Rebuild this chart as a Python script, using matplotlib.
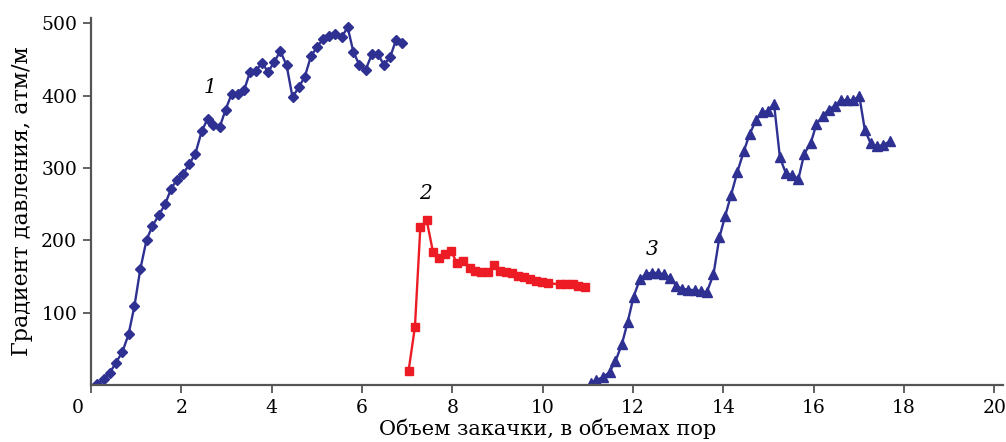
import matplotlib
matplotlib.use("Agg")
import matplotlib.pyplot as plt
import matplotlib.transforms as mtransforms

# ── Data ─────────────────────────────────────────────────────────────────────
x1 = [0.14, 0.28, 0.42, 0.55, 0.69, 0.83, 0.96, 1.09, 1.23, 1.36, 1.50, 1.64,
      1.77, 1.90, 2.04, 2.17, 2.31, 2.45, 2.58, 2.71, 2.85, 2.98, 3.11, 3.25,
      3.39, 3.52, 3.65, 3.78, 3.92, 4.06, 4.19, 4.33, 4.46, 4.60, 4.73, 4.87,
      5.00, 5.14, 5.27, 5.40, 5.55, 5.68, 5.81, 5.94, 6.08, 6.22, 6.35, 6.48,
      6.62, 6.75, 6.89]
y1 = [1, 8, 17, 31, 45, 70, 109, 160, 201, 220, 235, 250,
      271, 284, 292, 305, 320, 351, 368, 360, 357, 381, 402, 402,
      408, 433, 434, 446, 433, 447, 462, 442, 398, 412, 426, 455,
      467, 479, 483, 486, 481, 495, 460, 443, 436, 458, 458, 443,
      453, 477, 473]

x2 = [7.03, 7.17, 7.29, 7.43, 7.57, 7.70, 7.83, 7.97, 8.10, 8.24, 8.38, 8.51,
      8.64, 8.78, 8.92, 9.05, 9.18, 9.31, 9.45, 9.59, 9.72, 9.85, 9.99, 10.12,
      10.39, 10.52, 10.66, 10.79, 10.93]
y2 = [20, 80, 218, 228, 184, 175, 181, 185, 169, 171, 162, 158,
      156, 156, 166, 158, 156, 155, 151, 149, 147, 144, 143, 141,
      139, 139, 140, 137, 136]

x3 = [11.06, 11.19, 11.34, 11.48, 11.61, 11.75, 11.88, 12.01, 12.15, 12.29,
      12.42, 12.55, 12.68, 12.82, 12.96, 13.09, 13.22, 13.36, 13.50, 13.63,
      13.78, 13.91, 14.04, 14.17, 14.31, 14.45, 14.58, 14.72, 14.85, 14.98,
      15.12, 15.25, 15.38, 15.52, 15.66, 15.79, 15.93, 16.06, 16.20, 16.33,
      16.46, 16.60, 16.73, 16.86, 17.01, 17.13, 17.26, 17.40, 17.54, 17.68]
y3 = [3, 7, 11, 18, 33, 56, 87, 122, 146, 154,
      155, 155, 153, 148, 137, 133, 132, 131, 130, 128,
      153, 204, 234, 263, 295, 323, 347, 366, 377, 379,
      389, 315, 293, 290, 285, 320, 334, 361, 372, 381,
      386, 394, 394, 394, 399, 353, 334, 330, 332, 337]

curve_labels = ["1", "2", "3"]
label_pos = [(2.64, 411), (7.4, 265), (12.42, 188)]

x_ticks = list(range(0, 21, 2))
y_ticks = [100, 200, 300, 400, 500]

BLUE = "#2E3192"
RED = "#ED1C24"
SPINE = "#555555"

plt.rcParams["font.family"] = ["DejaVu Serif"]

fig = plt.figure(figsize=(10.06, 4.42), dpi=100)
ax = fig.add_axes([0.0905, 0.129, 0.907, 0.831])

ax.plot(x1, y1, "-", color=BLUE, lw=1.7, marker="D", ms=4.8, mec=BLUE, mfc=BLUE)
ax.plot(x2, y2, "-", color=RED, lw=1.7, marker="s", ms=5.8, mec=RED, mfc=RED)
ax.plot(x3, y3, "-", color=BLUE, lw=1.7, marker="^", ms=6.8, mec=BLUE, mfc=BLUE)

for txt, (lx, ly) in zip(curve_labels, label_pos):
    ax.text(lx, ly, txt, fontsize=14.5, style="italic", ha="center", va="center")

ax.set_xlim(0, 20.2)
ax.set_ylim(0, 508)
ax.set_xticks(x_ticks)
ax.set_yticks(y_ticks)

for side in ("top", "right"):
    ax.spines[side].set_visible(False)
for side in ("left", "bottom"):
    ax.spines[side].set_color(SPINE)
    ax.spines[side].set_linewidth(1.6)
ax.tick_params(direction="out", length=6, width=1.3, color=SPINE,
               labelsize=13.5, pad=4)

ax.set_xlabel("Объем закачки, в объемах пор", fontsize=15, labelpad=1)
ax.set_ylabel("Градиент давления, атм/м", fontsize=16, labelpad=6)

# the "0" label sits left of the spine in the reference
offset = mtransforms.ScaledTranslation(-13 / 100, 0, fig.dpi_scale_trans)
first = ax.get_xticklabels()[0]
first.set_transform(first.get_transform() + offset)

fig.savefig("out.png", dpi=100)
